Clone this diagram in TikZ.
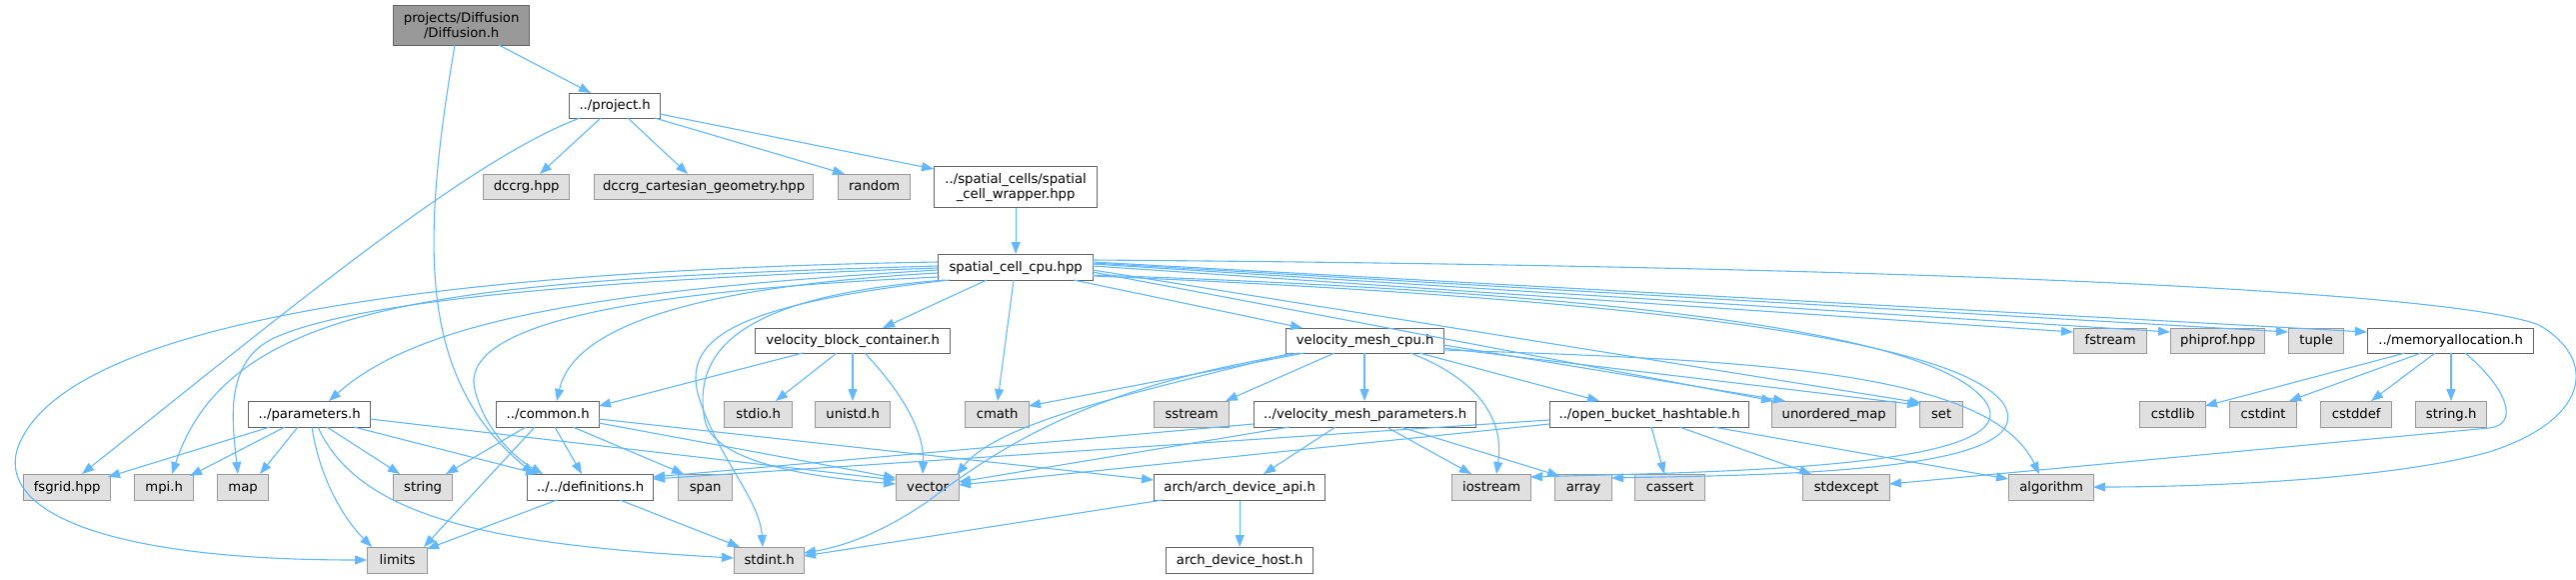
\documentclass[tikz,border=0pt]{standalone}
\usepackage{fontspec}
\setmainfont{DejaVu Sans}
\usetikzlibrary{arrows.meta}
\definecolor{edgec}{HTML}{63B8FF}
\definecolor{bord}{HTML}{666666}
\definecolor{gbord}{HTML}{999999}
\definecolor{gfill}{HTML}{E0E0E0}
\definecolor{rfill}{HTML}{999999}
\begin{document}
\begin{tikzpicture}[x=1pt,y=-1pt,
  base/.style={anchor=north west, line width=1.3pt, inner xsep=2pt, inner ysep=0pt,
    font=\fontsize{13.2}{15}\selectfont, align=center},
  one/.style={text height=9.8pt, text depth=2.9pt},
  wbox/.style={base, draw=bord, fill=white},
  gbox/.style={base, one, draw=gbord, fill=gfill},
  ed/.style={draw=edgec, line width=1.1pt, -{Triangle[length=12pt,width=9pt]}}]
\useasboundingbox (0,0) rectangle (2577,579);
% row 0-3
\node[wbox, fill=rfill, minimum width=136pt, minimum height=40pt] (diff) at (393,5) {projects/Diffusion\\/Diffusion.h};
\node[wbox, one, minimum width=91pt, minimum height=25pt] (project) at (569,93) {../project.h};
\node[gbox, minimum width=86pt, minimum height=25pt] (dccrg) at (483,174) {dccrg.hpp};
\node[gbox, minimum width=219pt, minimum height=25pt] (geo) at (594,174) {dccrg\_cartesian\_geometry.hpp};
\node[gbox, minimum width=72pt, minimum height=25pt] (random) at (838,174) {random};
\node[wbox, minimum width=163pt, minimum height=41pt] (wrapper) at (934,166) {../spatial\_cells/spatial\\\_cell\_wrapper.hpp};
\node[wbox, one, minimum width=155pt, minimum height=26pt] (scc) at (938,254) {spatial\_cell\_cpu.hpp};
% row 4
\node[wbox, one, minimum width=195pt, minimum height=25pt] (vbc) at (755,328) {velocity\_block\_container.h};
\node[wbox, one, minimum width=158pt, minimum height=25pt] (vmc) at (1286,328) {velocity\_mesh\_cpu.h};
\node[gbox, minimum width=73pt, minimum height=25pt] (fstream) at (2074,328) {fstream};
\node[gbox, minimum width=94pt, minimum height=25pt] (phiprof) at (2171,328) {phiprof.hpp};
\node[gbox, minimum width=55pt, minimum height=25pt] (tuple) at (2289,328) {tuple};
\node[wbox, one, minimum width=166pt, minimum height=25pt] (memalloc) at (2368,328) {../memoryallocation.h};
% row 5
\node[wbox, one, minimum width=122pt, minimum height=26pt] (params) at (248,401) {../parameters.h};
\node[wbox, one, minimum width=103pt, minimum height=26pt] (common) at (496,401) {../common.h};
\node[gbox, minimum width=68pt, minimum height=26pt] (stdio) at (724,401) {stdio.h};
\node[gbox, minimum width=75pt, minimum height=26pt] (unistd) at (815,401) {unistd.h};
\node[gbox, minimum width=64pt, minimum height=26pt] (cmath) at (965,401) {cmath};
\node[gbox, minimum width=75pt, minimum height=26pt] (sstream) at (1154,401) {sstream};
\node[wbox, one, minimum width=222pt, minimum height=26pt] (vmp) at (1254,401) {../velocity\_mesh\_parameters.h};
\node[wbox, one, minimum width=199pt, minimum height=26pt] (obh) at (1550,401) {../open\_bucket\_hashtable.h};
\node[gbox, minimum width=124pt, minimum height=26pt] (umap) at (1772,401) {unordered\_map};
\node[gbox, minimum width=43pt, minimum height=26pt] (set) at (1920,401) {set};
\node[gbox, minimum width=66pt, minimum height=26pt] (cstdlib) at (2140,401) {cstdlib};
\node[gbox, minimum width=67pt, minimum height=26pt] (cstdint) at (2230,401) {cstdint};
\node[gbox, minimum width=71pt, minimum height=26pt] (cstddef) at (2321,401) {cstddef};
\node[gbox, minimum width=71pt, minimum height=26pt] (stringh) at (2416,401) {string.h};
% row 6
\node[gbox, minimum width=87pt, minimum height=26pt] (fsgrid) at (23,474) {fsgrid.hpp};
\node[gbox, minimum width=59pt, minimum height=26pt] (mpi) at (134,474) {mpi.h};
\node[gbox, minimum width=51pt, minimum height=26pt] (map) at (217,474) {map};
\node[gbox, minimum width=59pt, minimum height=26pt] (string) at (393,474) {string};
\node[wbox, one, minimum width=126pt, minimum height=26pt] (defs) at (527,474) {../../definitions.h};
\node[gbox, minimum width=54pt, minimum height=26pt] (span) at (678,474) {span};
\node[gbox, minimum width=63pt, minimum height=26pt] (vector) at (896,474) {vector};
\node[wbox, one, minimum width=171pt, minimum height=26pt] (archapi) at (1154,474) {arch/arch\_device\_api.h};
\node[gbox, minimum width=79pt, minimum height=26pt] (iostream) at (1452,474) {iostream};
\node[gbox, minimum width=57pt, minimum height=26pt] (array) at (1555,474) {array};
\node[gbox, minimum width=70pt, minimum height=26pt] (cassert) at (1635,474) {cassert};
\node[gbox, minimum width=87pt, minimum height=26pt] (stdexcept) at (1803,474) {stdexcept};
\node[gbox, minimum width=85pt, minimum height=26pt] (algorithm) at (2009,474) {algorithm};
% row 7
\node[gbox, minimum width=60pt, minimum height=26pt] (limits) at (367,547) {limits};
\node[gbox, minimum width=70pt, minimum height=26pt] (stdint) at (734,547) {stdint.h};
\node[wbox, one, minimum width=147pt, minimum height=26pt] (archhost) at (1166,547) {arch\_device\_host.h};

% edges: Diffusion, project, wrapper
\draw[ed] ([shift={(106,40)}]diff.north west) -- ([shift={(22,0)}]project.north west);
\draw[ed] ([shift={(62,40)}]diff.north west) .. controls (420,250) and (420,380) .. ([shift={(7,0)}]defs.north west);
\draw[ed] ([shift={(11,25)}]project.north west) .. controls (470,160) and (300,300) .. ([shift={(59,0)}]fsgrid.north west);
\draw[ed] ([shift={(32,25)}]project.north west) -- ([shift={(57,0)}]dccrg.north west);
\draw[ed] ([shift={(59,25)}]project.north west) -- ([shift={(94,0)}]geo.north west);
\draw[ed] ([shift={(86,25)}]project.north west) -- ([shift={(7,0)}]random.north west);
\draw[ed] ([shift={(91,21)}]project.north west) -- ([shift={(0,3)}]wrapper.north west);
\draw[ed] (wrapper) -- (scc);

% spatial_cell_cpu.hpp, left side
\draw[ed] ([shift={(0,8)}]scc.north west) .. controls (450,270) and (60,320) .. (17,450) .. controls (0,510) and (100,560) .. ([shift={(0,13)}]limits.north west);
\draw[ed] ([shift={(0,12)}]scc.north west) .. controls (450,280) and (230,300) .. ([shift={(38,0)}]mpi.north west);
\draw[ed] ([shift={(0,14)}]scc.north west) .. controls (600,280) and (350,300) .. (270,340) .. controls (225,365) and (232,420) .. ([shift={(21,0)}]map.north west);
\draw[ed] ([shift={(0,16)}]scc.north west) .. controls (600,290) and (420,320) .. ([shift={(81,0)}]params.north west);
\draw[ed] ([shift={(0,19)}]scc.north west) .. controls (720,285) and (575,320) .. ([shift={(61,0)}]common.north west);
\draw[ed] ([shift={(2,23)}]scc.north west) .. controls (600,292) and (460,330) .. (475,390) .. controls (485,430) and (515,458) .. ([shift={(16,0)}]defs.north west);
\draw[ed] ([shift={(7,26)}]scc.north west) .. controls (760,295) and (690,340) .. (705,420) .. controls (715,470) and (850,480) .. ([shift={(0,10)}]vector.north west);
\draw[ed] ([shift={(12,26)}]scc.north west) .. controls (730,305) and (680,340) .. (700,400) .. controls (720,460) and (760,500) .. ([shift={(29,0)}]stdint.north west);
\draw[ed] ([shift={(49,26)}]scc.north west) -- ([shift={(128,0)}]vbc.north west);
\draw[ed] ([shift={(76,26)}]scc.north west) -- ([shift={(33,0)}]cmath.north west);
\draw[ed] ([shift={(136,26)}]scc.north west) -- ([shift={(17,0)}]vmc.north west);
% spatial_cell_cpu.hpp, right side
\draw[ed] ([shift={(155,18)}]scc.north west) -- ([shift={(2,0)}]umap.north west);
\draw[ed] ([shift={(155,16)}]scc.north west) -- ([shift={(2,2)}]set.north west);
\draw[ed] ([shift={(155,21)}]scc.north west) .. controls (1600,292) and (1930,330) .. (1985,400) .. controls (2040,470) and (1700,472) .. ([shift={(79,3)}]iostream.north west);
\draw[ed] ([shift={(155,22)}]scc.north west) .. controls (1600,297) and (1960,335) .. (2005,405) .. controls (2045,475) and (1750,475) .. ([shift={(57,4)}]array.north west);
\draw[ed] ([shift={(155,12)}]scc.north west) -- ([shift={(0,4)}]fstream.north west);
\draw[ed] ([shift={(155,10)}]scc.north west) -- ([shift={(0,4)}]phiprof.north west);
\draw[ed] ([shift={(155,9)}]scc.north west) -- ([shift={(0,4)}]tuple.north west);
\draw[ed] ([shift={(155,8)}]scc.north west) -- ([shift={(0,4)}]memalloc.north west);
\draw[ed] ([shift={(155,6)}]scc.north west) .. controls (1900,266) and (2450,290) .. (2540,325) .. controls (2600,360) and (2590,420) .. (2490,452) .. controls (2390,480) and (2200,487) .. ([shift={(85,13)}]algorithm.north west);

% velocity_block_container.h
\draw[ed] ([shift={(48,25)}]vbc.north west) -- ([shift={(103,5)}]common.north west);
\draw[ed] ([shift={(82,25)}]vbc.north west) -- ([shift={(52,0)}]stdio.north west);
\draw[ed] ([shift={(98,25)}]vbc.north west) -- ([shift={(38,0)}]unistd.north west);
\draw[ed] ([shift={(110,25)}]vbc.north west) .. controls (900,390) and (925,430) .. ([shift={(27,0)}]vector.north west);

% velocity_mesh_cpu.h
\draw[ed] ([shift={(19,25)}]vmc.north west) -- ([shift={(64,5)}]cmath.north west);
\draw[ed] ([shift={(6,25)}]vmc.north west) .. controls (1150,390) and (1000,420) .. ([shift={(61,1)}]vector.north west);
\draw[ed] ([shift={(14,25)}]vmc.north west) .. controls (1100,385) and (1010,440) .. (930,500) .. controls (880,535) and (840,547) .. ([shift={(70,6)}]stdint.north west);
\draw[ed] ([shift={(49,25)}]vmc.north west) -- ([shift={(72,0)}]sstream.north west);
\draw[ed] ([shift={(79,25)}]vmc.north west) -- ([shift={(111,0)}]vmp.north west);
\draw[ed] ([shift={(125,25)}]vmc.north west) .. controls (1480,380) and (1505,420) .. ([shift={(45,0)}]iostream.north west);
\draw[ed] ([shift={(134,25)}]vmc.north west) -- ([shift={(50,0)}]obh.north west);
\draw[ed] ([shift={(158,17)}]vmc.north west) -- ([shift={(14,0)}]umap.north west);
\draw[ed] ([shift={(158,20)}]vmc.north west) -- ([shift={(0,4)}]set.north west);
\draw[ed] ([shift={(158,22)}]vmc.north west) .. controls (1750,360) and (1990,370) .. ([shift={(31,0)}]algorithm.north west);

% parameters.h
\draw[ed] ([shift={(22,26)}]params.north west) -- ([shift={(85,3)}]fsgrid.north west);
\draw[ed] ([shift={(37,26)}]params.north west) -- ([shift={(56,2)}]mpi.north west);
\draw[ed] ([shift={(50,26)}]params.north west) -- ([shift={(43,0)}]map.north west);
\draw[ed] ([shift={(79,26)}]params.north west) -- ([shift={(7,0)}]string.north west);
\draw[ed] ([shift={(106,26)}]params.north west) -- ([shift={(11,0)}]defs.north west);
\draw[ed] ([shift={(64,26)}]params.north west) .. controls (320,480) and (345,520) .. ([shift={(5,0)}]limits.north west);
\draw[ed] ([shift={(70,26)}]params.north west) .. controls (360,520) and (500,545) .. ([shift={(0,11)}]stdint.north west);
\draw[ed] ([shift={(122,18)}]params.north west) -- ([shift={(0,6)}]vector.north west);

% common.h
\draw[ed] ([shift={(30,26)}]common.north west) -- ([shift={(53,0)}]string.north west);
\draw[ed] ([shift={(39,26)}]common.north west) -- ([shift={(57,0)}]limits.north west);
\draw[ed] ([shift={(59,26)}]common.north west) -- ([shift={(55,0)}]defs.north west);
\draw[ed] ([shift={(77,26)}]common.north west) -- ([shift={(6,0)}]span.north west);
\draw[ed] ([shift={(103,22)}]common.north west) -- ([shift={(0,4)}]vector.north west);
\draw[ed] ([shift={(103,18)}]common.north west) -- ([shift={(0,6)}]archapi.north west);

% definitions.h, arch
\draw[ed] ([shift={(30,26)}]defs.north west) -- ([shift={(60,2)}]limits.north west);
\draw[ed] ([shift={(93,26)}]defs.north west) -- ([shift={(6,0)}]stdint.north west);
\draw[ed] (archapi) -- (archhost);
\draw[ed] ([shift={(9,26)}]archapi.north west) -- ([shift={(70,9)}]stdint.north west);

% velocity_mesh_parameters.h
\draw[ed] ([shift={(0,23)}]vmp.north west) -- ([shift={(126,3)}]defs.north west);
\draw[ed] ([shift={(36,26)}]vmp.north west) -- ([shift={(63,8)}]vector.north west);
\draw[ed] ([shift={(82,26)}]vmp.north west) -- ([shift={(110,0)}]archapi.north west);
\draw[ed] ([shift={(133,26)}]vmp.north west) -- ([shift={(20,0)}]iostream.north west);
\draw[ed] ([shift={(147,26)}]vmp.north west) -- ([shift={(5,2)}]array.north west);

% open_bucket_hashtable.h
\draw[ed] ([shift={(0,19)}]obh.north west) -- ([shift={(126,5)}]defs.north west);
\draw[ed] ([shift={(0,23)}]obh.north west) -- ([shift={(63,11)}]vector.north west);
\draw[ed] ([shift={(102,26)}]obh.north west) -- ([shift={(30,0)}]cassert.north west);
\draw[ed] ([shift={(130,26)}]obh.north west) -- ([shift={(9,0)}]stdexcept.north west);
\draw[ed] ([shift={(164,26)}]obh.north west) -- ([shift={(0,5)}]algorithm.north west);

% memoryallocation.h
\draw[ed] ([shift={(38,25)}]memalloc.north west) -- ([shift={(66,5)}]cstdlib.north west);
\draw[ed] ([shift={(54,25)}]memalloc.north west) -- ([shift={(60,0)}]cstdint.north west);
\draw[ed] ([shift={(68,25)}]memalloc.north west) -- ([shift={(51,0)}]cstddef.north west);
\draw[ed] ([shift={(84,25)}]memalloc.north west) -- ([shift={(36,0)}]stringh.north west);
\draw[ed] ([shift={(98,25)}]memalloc.north west) .. controls (2510,390) and (2520,425) .. (2490,428) -- ([shift={(87,10)}]stdexcept.north west);
\end{tikzpicture}
\end{document}
